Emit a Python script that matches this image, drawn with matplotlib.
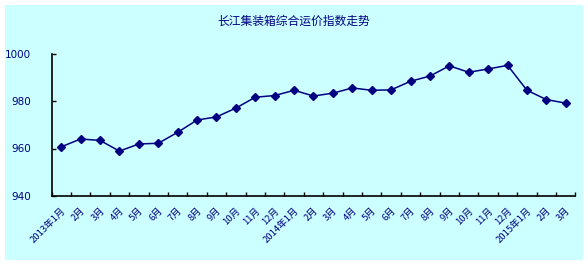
import matplotlib.pyplot as plt

plt.rcParams['font.family'] = ['Noto Sans CJK SC', 'DejaVu Sans']

months = ['2013年1月', '2月', '3月', '4月', '5月', '6月', '7月', '8月', '9月', '10月', '11月', '12月',
          '2014年1月', '2月', '3月', '4月', '5月', '6月', '7月', '8月', '9月', '10月', '11月', '12月',
          '2015年1月', '2月', '3月']
index_values = [960.7, 964.0, 963.4, 958.9, 961.9, 962.2, 966.8, 972.0, 973.3, 977.0, 981.6, 982.3,
                984.5, 982.1, 983.3, 985.5, 984.5, 984.7, 988.3, 990.5, 994.8, 992.1, 993.5, 995.0,
                984.5, 980.6, 979.1]
y_ticks = [940, 960, 980, 1000]

navy = '#000080'

fig = plt.figure(figsize=(5.88, 2.65), dpi=100)
fig.patch.set_facecolor('white')

# cyan chart area behind everything
bg = fig.add_axes([5/588, 5/265, 578/588, 255/265], zorder=-1)
bg.set_facecolor('#ccffff')
for s in bg.spines.values():
    s.set_visible(False)
bg.set_xticks([])
bg.set_yticks([])

ax = fig.add_axes([51.5/588, (265-196)/265, (575.5-51.5)/588, (196-53.5)/265], zorder=1)
ax.set_facecolor('none')

x = list(range(len(months)))
ax.plot(x, index_values, color=navy, lw=1.1, marker='D', ms=3.8, mfc=navy, mec=navy)

ax.set_xlim(-0.5, len(months) - 0.5)
ax.set_ylim(940, 1000)
ax.set_yticks(y_ticks)
ax.set_yticklabels([str(v) for v in y_ticks], color=navy, fontsize=7.5, family='DejaVu Sans')

ax.set_xticks(x)
ax.set_xticklabels(months, rotation=45, ha='right', va='top', rotation_mode='anchor',
                   color=navy, fontsize=6.8)
ax.tick_params(axis='x', which='major', length=0, pad=7)
ax.set_xticks([i - 0.5 for i in range(len(months) + 1)], minor=True)
ax.tick_params(axis='x', which='minor', direction='in', length=3, width=1, color='black')
ax.tick_params(axis='y', direction='in', length=3, width=1, pad=15, color='black')

for s in ['top', 'right']:
    ax.spines[s].set_visible(False)
for s in ['left', 'bottom']:
    ax.spines[s].set_linewidth(1.2)

fig.text(0.5, 1 - 21/265, '长江集装箱综合运价指数走势', ha='center', va='center',
         color=navy, fontsize=8.5)

fig.savefig('out.png', dpi=100)
